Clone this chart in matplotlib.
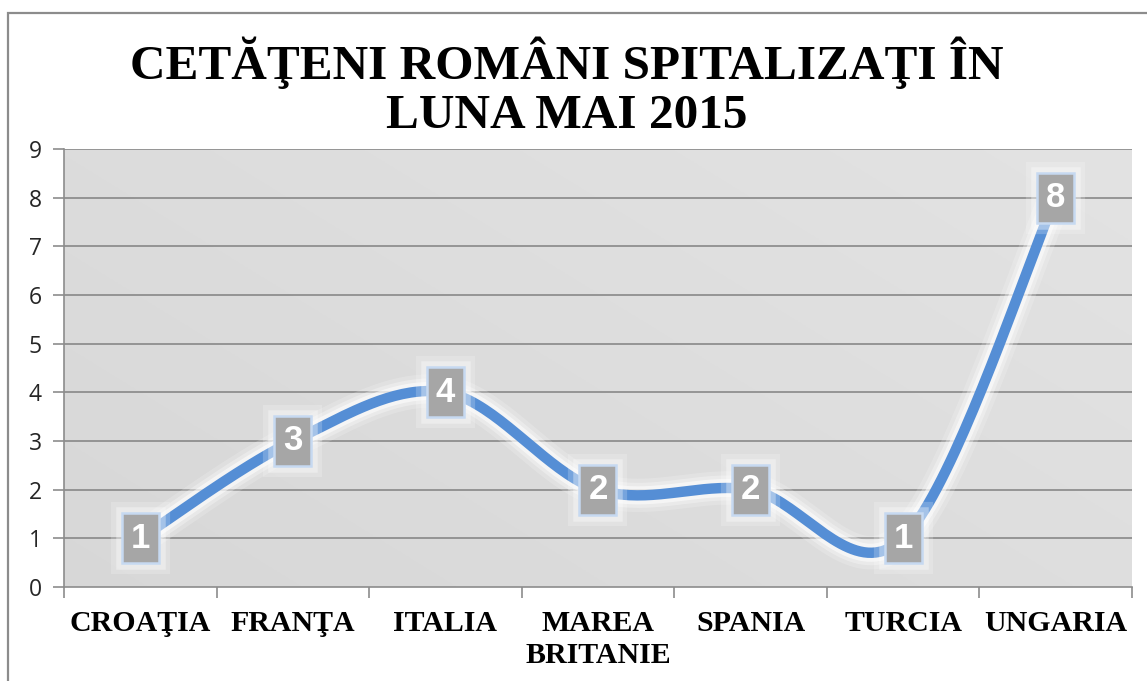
import numpy as np
import matplotlib
matplotlib.use("Agg")
import matplotlib.pyplot as plt
import matplotlib.patheffects as pe
from matplotlib.patches import Rectangle

# ---- data ----
categories = ["CROAŢIA", "FRANŢA", "ITALIA", "MAREA\nBRITANIE", "SPANIA", "TURCIA", "UNGARIA"]
values = [1, 3, 4, 2, 2, 1, 8]
yticks = [0, 1, 2, 3, 4, 5, 6, 7, 8, 9]
title_lines = ["CETĂŢENI ROMÂNI SPITALIZAŢI ÎN", "LUNA MAI 2015"]

W, H = 1147, 681
fig = plt.figure(figsize=(W / 100, H / 100), dpi=100)
fig.patch.set_facecolor("white")

# outer frame
fig.patches.append(Rectangle((8 / W, -0.2), 1.5, 1 - 13 / H + 0.2, transform=fig.transFigure,
                             fill=False, ec="#8c8c8c", lw=1.6))

L, R, T, B = 64, 1132, 149, 587
ax = fig.add_axes([L / W, 1 - B / H, (R - L) / W, (B - T) / H])
n = len(categories)
x = np.arange(n)
ax.set_xlim(-0.5, n - 0.5)
ax.set_ylim(0, 9)
sx = (R - L) / n          # pixels per category
sy = (B - T) / 9          # pixels per unit

# background gradient
grad = np.linspace(0, 1, 256)
gx, gy = np.meshgrid(grad, grad)
g = 0.845 + 0.045 * (0.6 * gx + 0.4 * gy)
img = np.dstack([g, g, g])
ax.imshow(img, extent=[-0.5, n - 0.5, 0, 9], aspect="auto", origin="lower", zorder=0)

for yv in yticks[1:]:
    ax.axhline(yv, color="#888888", lw=1.2, zorder=1)

for s in ["top", "right"]:
    ax.spines[s].set_visible(False)
for s in ["left", "bottom"]:
    ax.spines[s].set_color("#8c8c8c")
    ax.spines[s].set_linewidth(1.2)

ax.set_yticks(yticks)
ax.set_yticklabels([str(v) for v in yticks], fontsize=16.5, color="#262626", family="Open Sans")
ax.tick_params(axis="y", length=8, color="#8c8c8c", width=1.2, pad=8)
ax.set_xticks(np.arange(n + 1) - 0.5)
ax.set_xticklabels([])
ax.tick_params(axis="x", length=8, color="#8c8c8c", width=1.2)
for i, c in enumerate(categories):
    ax.text(i, -0.47, c, ha="center", va="top", fontsize=21.5, fontweight="bold",
            family="Liberation Serif", color="black", linespacing=1.25)

# smooth line (Excel-like Bezier smoothing in pixel space)
def smooth(xs, ys, npts=40):
    P = np.column_stack([xs, ys]).astype(float)
    Pext = np.vstack([P[0], P, P[-1]])
    out = []
    for i in range(len(P) - 1):
        p0, p1, p2, p3 = Pext[i], Pext[i + 1], Pext[i + 2], Pext[i + 3]
        c1 = p1 + (p2 - p0) / 6
        c2 = p2 - (p3 - p1) / 6
        t = np.linspace(0, 1, npts)[:, None]
        seg = (1 - t) ** 3 * p1 + 3 * (1 - t) ** 2 * t * c1 + 3 * (1 - t) * t ** 2 * c2 + t ** 3 * p2
        out.append(seg if i == 0 else seg[1:])
    return np.vstack(out)

curve = smooth(x * sx, np.array(values) * sy)
cx, cy = curve[:, 0] / sx, curve[:, 1] / sy

glow = [pe.Stroke(linewidth=24, foreground="white", alpha=0.18),
        pe.Stroke(linewidth=18, foreground="white", alpha=0.3),
        pe.Stroke(linewidth=13, foreground="white", alpha=0.55),
        pe.Normal()]
ax.plot(cx, cy, color="#558ed5", lw=7.5, solid_capstyle="round", zorder=3, path_effects=glow)

bw, bh = 37 / sx, 50 / sy
box_glow = [pe.Stroke(linewidth=16, foreground="white", alpha=0.2),
            pe.Stroke(linewidth=9, foreground="white", alpha=0.35),
            pe.Normal()]
for i, v in enumerate(values):
    rect = Rectangle((i - bw / 2, v - bh / 2), bw, bh, fc="#a6a6a6", ec="#c6d9f1", lw=1.8, zorder=5)
    rect.set_path_effects(box_glow)
    ax.add_patch(rect)
    ax.text(i, v, str(v), ha="center", va="center", fontsize=25, fontweight="bold",
            color="white", family="Liberation Sans", zorder=6)

fig.text(567 / W, 1 - 63 / H, title_lines[0], ha="center", va="center", fontsize=35.5,
         fontweight="bold", family="Liberation Serif")
fig.text(567 / W, 1 - 116 / H, title_lines[1], ha="center", va="center", fontsize=35.5,
         fontweight="bold", family="Liberation Serif")

fig.savefig("out.png", dpi=100)
